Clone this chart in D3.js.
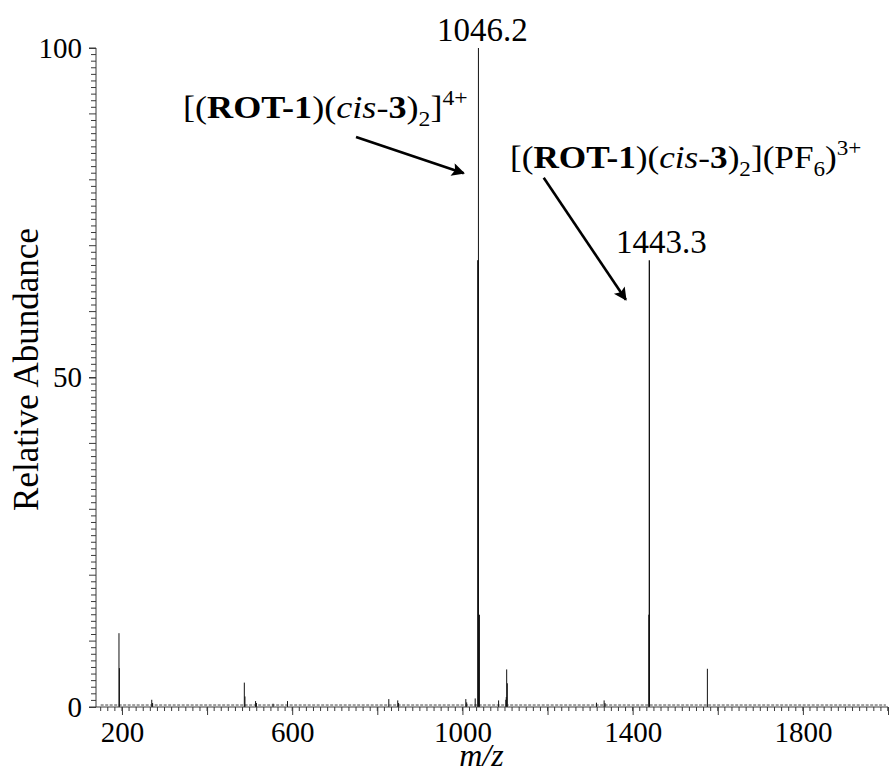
<!DOCTYPE html>
<html>
<head>
<meta charset="utf-8">
<script src="https://cdn.jsdelivr.net/npm/d3@7"></script>
<style>
  body { margin: 0; background: #fff; }
  svg { display: block; font-family: "Liberation Serif", "Times New Roman", serif; }
</style>
</head>
<body>
<svg width="891" height="773"></svg>
<script>
// peak list (m/z, relative abundance %)
var peakMz = [193, 194, 270, 272, 487.5, 489, 514, 516, 555, 589, 827, 848, 850,
  1008, 1010, 1030, 1036.4, 1037.2, 1037.6, 1040, 1085, 1102, 1103, 1104, 1105.5,
  1315, 1333, 1335, 1438.2, 1438.9, 1439.2, 1575.6];
var peakAbundance = [11.2, 5.9, 1.1, 0.6, 3.7, 1.6, 0.9, 0.6, 0.5, 0.9, 1.2, 1.0, 0.6,
  1.2, 0.7, 1.3, 67.8, 67.8, 100, 14, 1.0, 1.1, 1.5, 5.7, 3.6,
  0.65, 1.0, 0.6, 14, 14, 67.8, 5.8];

// labelled peaks
var labelMz = [1037.6, 1439.2];
var labelText = ["1046.2", "1443.3"];

var noiseLevel = 0.3;

var xDomain = [139, 2000];
var yDomain = [0, 100];
var xTickLabels = [200, 600, 1000, 1400, 1800];
var yTickLabels = [0, 50, 100];

var svg = d3.select("svg");
var margin = { left: 96, right: 3, top: 48, bottom: 66 };
var W = +svg.attr("width"), H = +svg.attr("height");

var x = d3.scaleLinear().domain(xDomain).range([margin.left, W - margin.right]);
var y = d3.scaleLinear().domain(yDomain).range([H - margin.bottom, margin.top]);

var axisColor = "#3a3a3a";
var serif = "Liberation Serif";

// baseline noise
svg.append("line")
  .attr("x1", x(150)).attr("x2", x(1995))
  .attr("y1", y(noiseLevel)).attr("y2", y(noiseLevel))
  .attr("stroke", "#444").attr("stroke-width", 1)
  .attr("stroke-dasharray", "3,1.5");

// peaks
var peaks = peakMz.map(function(m, i) { return { mz: m, ab: peakAbundance[i] }; });
svg.append("g").selectAll("line")
  .data(peaks)
  .enter()
  .append("line")
  .attr("x1", function(d) { return x(d.mz); })
  .attr("x2", function(d) { return x(d.mz); })
  .attr("y1", y(0))
  .attr("y2", function(d) { return y(d.ab); })
  .attr("stroke", "#111")
  .attr("stroke-width", function(d) { return d.ab > 60 && d.ab < 90 ? 1.3 : 1; });

// x axis: major every 200, minor 12 per 200
var xAxis = d3.axisBottom(x)
  .tickValues(d3.range(200, 2001, 200))
  .tickSize(8)
  .tickFormat(function(d) { return xTickLabels.indexOf(d) >= 0 ? d : ""; });
var xMinor = [];
for (var k = 0; k <= 112; k++) {
  var v = 200 - 200 / 12 * 3 + k * 200 / 12;
  if (v >= xDomain[0] && v <= xDomain[1]) xMinor.push(v);
}
var gx = svg.append("g").attr("transform", "translate(0," + y(0) + ")");
gx.selectAll(".minor").data(xMinor).enter().append("line")
  .attr("x1", function(d) { return x(d); }).attr("x2", function(d) { return x(d); })
  .attr("y1", 0).attr("y2", 4)
  .attr("stroke", axisColor);
gx.call(xAxis);
gx.select(".domain").attr("stroke", axisColor).attr("d", "M" + x.range()[0] + ",0H" + x.range()[1] + "V4");
gx.selectAll(".tick line").attr("stroke", axisColor);
gx.selectAll(".tick text")
  .attr("font-family", serif)
  .attr("font-size", 29)
  .attr("fill", "#000")
  .attr("dy", "0.92em")
  .attr("y", 8);

// y axis: tick every 1, longer every 10
var yAxis = d3.axisLeft(y)
  .tickValues(yTickLabels)
  .tickSize(7)
  .tickFormat(d3.format("d"));
var gy = svg.append("g").attr("transform", "translate(" + x.range()[0] + ",0)");
gy.selectAll(".minor").data(d3.range(0, 101, 1)).enter().append("line")
  .attr("x1", function(d) { return d % 10 === 0 ? -7 : -5; }).attr("x2", 0)
  .attr("y1", function(d) { return y(d); }).attr("y2", function(d) { return y(d); })
  .attr("stroke", axisColor);
gy.call(yAxis);
gy.select(".domain").attr("stroke", axisColor).attr("d", "M0," + y(0) + "V" + y(100));
gy.selectAll(".tick line").attr("stroke", axisColor);
gy.selectAll(".tick text")
  .attr("font-family", serif)
  .attr("font-size", 29)
  .attr("fill", "#000")
  .attr("x", -14);

// axis titles
svg.append("text")
  .attr("transform", "translate(38," + (y(50) - 8) + ") rotate(-90)")
  .attr("text-anchor", "middle")
  .attr("font-size", 35)
  .text("Relative Abundance");

svg.append("text")
  .attr("x", x(1045)).attr("y", H - 7)
  .attr("text-anchor", "middle")
  .attr("font-size", 32)
  .attr("font-style", "italic")
  .text("m/z");

// peak labels
var labelDx = [4, 12];
svg.selectAll(".plabel").data(labelText).enter().append("text")
  .attr("class", "plabel")
  .attr("x", function(d, i) { return x(labelMz[i]) + labelDx[i]; })
  .attr("y", function(d, i) {
    var m = labelMz[i];
    return y(peakAbundance[peakMz.indexOf(m)]) - 7;
  })
  .attr("text-anchor", "middle")
  .attr("font-size", 33)
  .text(function(d) { return d; });

// annotations
function formula(g, parts, tx, ty, sx) {
  var t = g.append("text")
    .attr("font-size", 32)
    .attr("transform", "translate(" + tx + "," + ty + ") scale(" + sx + ",1)");
  parts.forEach(function(p) {
    var s = t.append("tspan").text(p[0]);
    if (p[1] === "b") s.attr("font-weight", "bold");
    if (p[1] === "i") s.attr("font-style", "italic");
    if (p[1] === "sub") s.attr("font-size", 21).attr("dy", 8);
    if (p[1] === "sup") s.attr("font-size", 21).attr("dy", -13);
    if (p[2]) s.attr("dy", p[2]);
  });
  return t;
}

var ann1 = [["[("], ["ROT-1", "b"], [")("], ["cis", "i"], ["-"], ["3", "b"], [")"],
  ["2", "sub"], ["]", null, -8], ["4+", "sup"]];
var ann2 = [["[("], ["ROT-1", "b"], [")("], ["cis", "i"], ["-"], ["3", "b"], [")"],
  ["2", "sub"], ["](PF", null, -8], ["6", "sub"], [")", null, -8], ["3+", "sup"]];

formula(svg, ann1, 183, 118, 1.13);
formula(svg, ann2, 510, 168, 1.1);

var defs = svg.append("defs");
defs.append("marker")
  .attr("id", "head")
  .attr("viewBox", "0 0 10 10")
  .attr("refX", 9).attr("refY", 5)
  .attr("markerWidth", 6).attr("markerHeight", 5)
  .attr("orient", "auto")
  .attr("markerUnits", "strokeWidth")
  .append("path")
  .attr("d", "M0,0L10,5L0,10L2,5Z")
  .attr("fill", "#000");

var arrows = [
  [[750, 86.5], [1003, 81]],
  [[1191, 80.3], [1384, 61.8]]
];
svg.selectAll(".arrow").data(arrows).enter().append("line")
  .attr("x1", function(d) { return x(d[0][0]); })
  .attr("y1", function(d) { return y(d[0][1]); })
  .attr("x2", function(d) { return x(d[1][0]); })
  .attr("y2", function(d) { return y(d[1][1]); })
  .attr("stroke", "#000")
  .attr("stroke-width", 2.6)
  .attr("marker-end", "url(#head)");
</script>
</body>
</html>
